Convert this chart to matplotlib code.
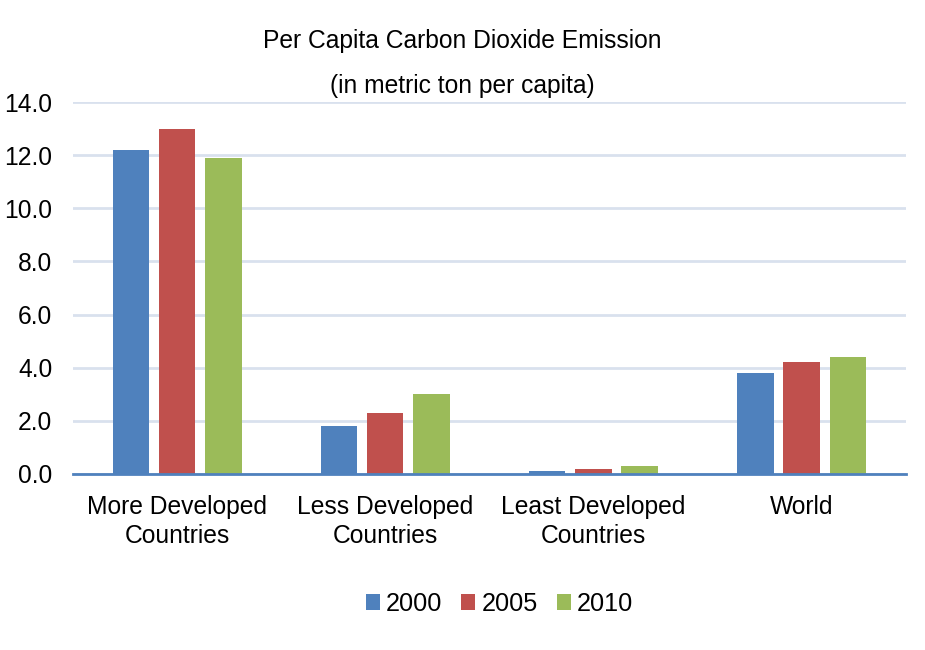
import numpy as np
import matplotlib.pyplot as plt

plt.rcParams['font.family'] = ['Liberation Sans', 'DejaVu Sans']

categories = ["More Developed\nCountries", "Less Developed\nCountries",
              "Least Developed\nCountries", "World"]
years = ["2000", "2005", "2010"]
v2000 = [12.2, 1.8, 0.1, 3.8]
v2005 = [13.0, 2.3, 0.2, 4.2]
v2010 = [11.9, 3.0, 0.3, 4.4]
colors = ["#4F81BD", "#C0504D", "#9BBB59"]

fig = plt.figure(figsize=(9.25, 6.5), dpi=100)
ax = fig.add_axes([0.079, 0.271, 0.9, 0.572])

x = np.arange(len(categories))
w = 0.175
step = 0.222
for i, (vals, lab) in enumerate(zip([v2000, v2005, v2010], years)):
    ax.bar(x + (i - 1) * step, vals, w, color=colors[i], label=lab, zorder=3)

ax.set_xlim(-0.5, len(categories) - 0.5)
ax.set_ylim(0, 14)
ticks = np.arange(0, 14.1, 2)
ax.set_yticks(ticks)
ax.set_yticklabels([f"{t:.1f}" for t in ticks], fontsize=17.7)
ax.set_xticks(x)
ax.set_xticklabels(categories, fontsize=17.7, linespacing=1.3)
ax.tick_params(axis='x', length=0, pad=15)
ax.tick_params(axis='y', length=0, pad=15)
ax.grid(axis='y', color="#D9E1EE", linewidth=2, zorder=0)
for s in ["top", "right", "left"]:
    ax.spines[s].set_visible(False)
ax.spines["bottom"].set_color("#4F81BD")
ax.spines["bottom"].set_linewidth(2)
ax.spines["bottom"].set_zorder(4)

fig.text(0.5, 0.937, "Per Capita Carbon Dioxide Emission", ha='center', va='center', fontsize=17.7)
fig.text(0.5, 0.868, "(in metric ton per capita)", ha='center', va='center', fontsize=17.7)

fig.legend(loc='center', bbox_to_anchor=(0.54, 0.071), ncol=3, frameon=False,
           fontsize=18.2, handlelength=0.55, handleheight=0.55, handletextpad=0.25,
           columnspacing=0.75)

fig.savefig("out.png", dpi=100)
